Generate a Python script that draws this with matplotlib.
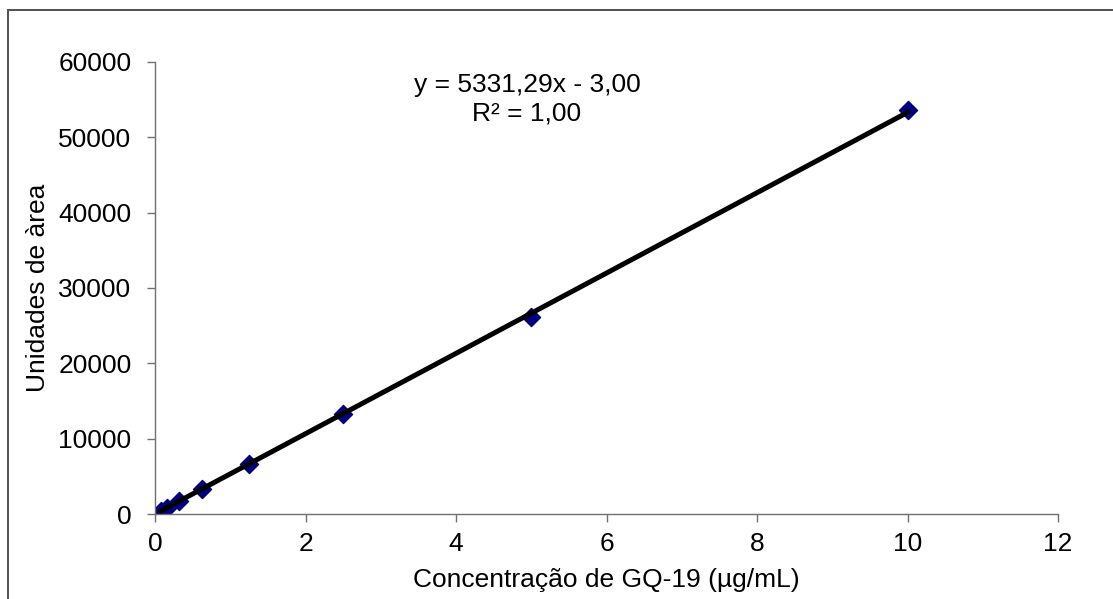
import numpy as np
import matplotlib.pyplot as plt
from matplotlib.lines import Line2D

plt.rcParams['font.family'] = ['Liberation Sans', 'DejaVu Sans']

# calibration data
conc = [0.078, 0.156, 0.3125, 0.625, 1.25, 2.5, 5.0, 10.0]
area = [420, 850, 1700, 3350, 6700, 13250, 26100, 53600]

# trendline as reported
slope = 5331.29
intercept = -3.00
r2 = 1.00

x_ticks = [0, 2, 4, 6, 8, 10, 12]
y_ticks = [0, 10000, 20000, 30000, 40000, 50000, 60000]

fig = plt.figure(figsize=(11.13, 5.99), dpi=100)
ax = fig.add_axes([0.1393, 0.1419, 0.9506 - 0.1393, 0.8965 - 0.1419])

# outer chart frame (only left and top edges visible)
fig.add_artist(Line2D([8 / 1113, 8 / 1113], [0, 1 - 10 / 599], transform=fig.transFigure,
                      color='#505050', lw=1.4))
fig.add_artist(Line2D([8 / 1113, 1], [1 - 10 / 599, 1 - 10 / 599], transform=fig.transFigure,
                      color='#505050', lw=1.4))

xs = np.array([min(conc), max(conc)])
ax.plot(xs, slope * xs + intercept, color='black', lw=3.6, zorder=3)
ax.scatter(conc, area, marker='D', s=85, color='#000080', zorder=2)

ax.set_xlim(0, 12)
ax.set_ylim(0, 60000)
ax.set_xticks(x_ticks)
ax.set_yticks(y_ticks)
ax.tick_params(direction='out', length=6, width=1, color='#707070', labelsize=19)
ax.tick_params(axis='x', pad=7)
ax.tick_params(axis='y', pad=11)

for side in ['top', 'right']:
    ax.spines[side].set_visible(False)
for side in ['left', 'bottom']:
    ax.spines[side].set_color('#707070')
    ax.spines[side].set_linewidth(1.0)

ax.set_xlabel('Concentração de GQ-19 (µg/mL)', fontsize=19, va='center')
ax.xaxis.set_label_coords(0.5, -0.146)
ax.set_ylabel('Unidades de àrea', fontsize=19, va='center', ha='center')
ax.yaxis.set_label_coords(-0.1296, 0.5)

eq = f'y = {slope:.2f}x - {abs(intercept):.2f}'.replace('.', ',')
rr = f'R² = {r2:.2f}'.replace('.', ',')
fig.text(527 / 1113, 1 - 85 / 599, eq, ha='center', va='center', fontsize=19)
fig.text(527 / 1113, 1 - 113 / 599, rr, ha='center', va='center', fontsize=19)

fig.savefig('out.png', dpi=100)
